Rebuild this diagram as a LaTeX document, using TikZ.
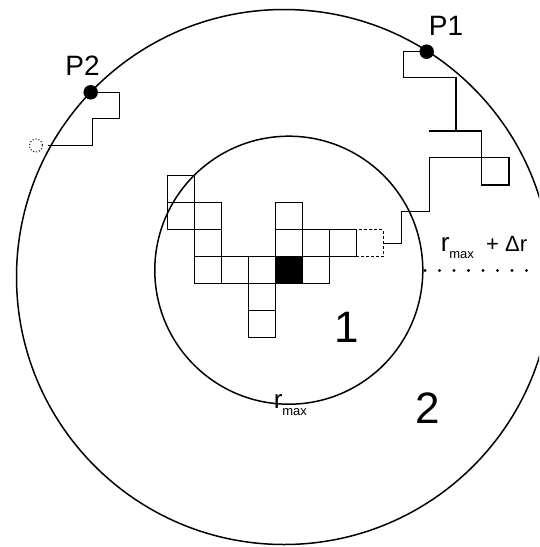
\documentclass[tikz,border=0pt]{standalone}
\usepackage{fontspec}
\setmainfont{Liberation Sans}
\newcommand{\fsz}[1]{\fontsize{#1}{#1}\selectfont}
\newcommand{\rsub}[1]{r\raisebox{-7pt}{\fsz{13}max}}
\begin{document}
\begin{tikzpicture}[x=1pt,y=-1pt,
  line width=1.5pt,
  cell/.style={draw, minimum size=27pt, inner sep=0pt, outer sep=0pt, line width=1.4pt},
  trial/.style={cell, dashed, dash pattern=on 3pt off 2pt},
  hit/.style={cell, fill=black},
  walk/.style={line width=1.4pt},
  endpt/.style={circle, fill=black, minimum size=14.5pt, inner sep=0pt},
  lbl/.style={inner sep=0pt, font=\fsz{28}},
  region/.style={inner sep=0pt, font=\fsz{44}}]
\clip (0,0) rectangle (539,547);

% the two shells
\coordinate (c) at (288.8,270.2);
\coordinate (co) at (284,277);
\draw (c) circle (134);
\draw (co) circle (267.5);

% lattice cluster (column, row)
\foreach \cc/\rr in {0/0,0/1,1/1,1/2,1/3,2/3,3/3,5/3,3/4,3/5,4/1,4/2,5/2,6/2}
  \node[cell] (s\cc-\rr) at (180.8+27*\cc,189.2+27*\rr) {};
\node[hit] (seed) at (180.8+27*4,189.2+27*3) {};
\node[trial] (next) at (180.8+27*7,189.2+27*2) {};

% walker P1
\node[endpt] (P1) at (426.7,51.7) {};
\draw[walk] (next.east) -- (401.7,243.2) -- (401.7,211.7) -- (429.3,211.7)
  -- (429.3,157.7) -- (509,157.7) -- (509,185) -- (481.7,185) -- (481.7,131)
  -- (429.3,131) (456,131) -- (456,77.7) -- (403.3,77.7) -- (403.3,51.7) -- (P1.center);

% walker P2
\node[endpt] (P2) at (90.7,92.3) {};
\draw[walk] (P2.center) -- (119.3,92.3) -- (119.3,118.3) -- (92.7,118.3)
  -- (92.7,145.7) -- (48.3,145.7);
\draw[line width=1pt, dotted] (36,145.5) circle (6.5);

% shell labels
\node[lbl] (tP1) at (446,26) {P1};
\node[lbl] (tP2) at (82.5,66) {P2};
\node[region] (one) at (347,327) {1};
\node[region] (two) at (428,408) {2};
\node[inner sep=0pt, font=\fsz{26}, anchor=base west] (rin) at (273,408) {\rsub{}};
\node[inner sep=0pt, font=\fsz{26}, anchor=base west] (rout) at (440,251)
  {\rsub{}\fsz{22} \ + Δr};

% radial marker for the outer shell
\foreach \k in {0,...,7}
  \fill (425+14.5*\k,270.5) circle (1.6);
\end{tikzpicture}
\end{document}
